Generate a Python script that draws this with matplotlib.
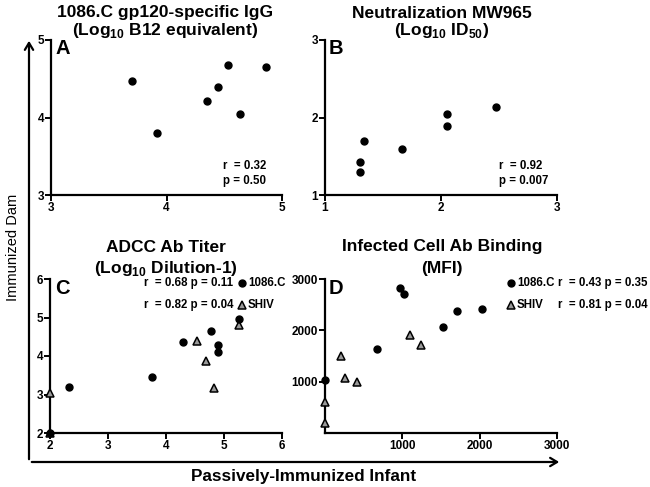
import matplotlib
matplotlib.use("Agg")
import matplotlib.pyplot as plt
from matplotlib.lines import Line2D
from matplotlib.patches import FancyArrowPatch

plt.rcParams['font.family'] = ['Liberation Sans', 'DejaVu Sans']
plt.rcParams['font.weight'] = 'bold'
plt.rcParams['mathtext.fontset'] = 'custom'
plt.rcParams['mathtext.rm'] = 'Liberation Sans:bold'
plt.rcParams['mathtext.bf'] = 'Liberation Sans:bold'

# Panel A: 1086.C gp120-specific IgG
a_infant = [3.70, 3.92, 4.35, 4.45, 4.53, 4.64, 4.86]
a_dam = [4.47, 3.80, 4.21, 4.39, 4.68, 4.05, 4.65]
# Panel B: Neutralization MW965
b_infant = [1.34, 1.30, 1.30, 1.66, 2.05, 2.05, 2.47]
b_dam = [1.70, 1.43, 1.30, 1.59, 2.05, 1.89, 2.14]
# Panel C: ADCC Ab titer
c_1086_infant = [2.00, 2.32, 3.76, 4.30, 4.77, 4.89, 4.89, 5.25]
c_1086_dam = [2.00, 3.19, 3.46, 4.36, 4.66, 4.29, 4.11, 4.95]
c_shiv_infant = [2.00, 2.00, 4.54, 4.69, 4.83, 5.25]
c_shiv_dam = [2.00, 3.03, 4.39, 3.86, 3.18, 4.81]
# Panel D: Infected cell Ab binding (MFI)
d_1086_infant = [0, 677, 965, 1021, 1529, 1710, 2027]
d_1086_dam = [1040, 1631, 2832, 2710, 2060, 2384, 2423]
d_shiv_infant = [0, 0, 204, 255, 417, 1100, 1239]
d_shiv_dam = [200, 610, 1495, 1066, 988, 1916, 1709]

W, H = 650, 487
fig = plt.figure(figsize=(W / 100, H / 100), dpi=100)


def fx(x):
    return x / W


def fy(y):
    return 1 - y / H


def make_ax(l, r, t, b, xlim, ylim, xticks, yticks):
    ax = fig.add_axes([fx(l), fy(b), (r - l) / W, (b - t) / H])
    ax.set_xlim(*xlim)
    ax.set_ylim(*ylim)
    ax.set_xticks(xticks)
    ax.set_yticks(yticks)
    for s in ['top', 'right']:
        ax.spines[s].set_visible(False)
    for s in ['left', 'bottom']:
        ax.spines[s].set_linewidth(1.6)
    ax.tick_params(direction='out', length=4, width=1.4, labelsize=8.5, pad=1)
    for lab in ax.get_xticklabels() + ax.get_yticklabels():
        lab.set_fontweight('bold')
    ax.patch.set_alpha(0)
    return ax


circ = dict(marker='o', linestyle='none', color='black', markersize=5, clip_on=False, zorder=5)
tri = dict(marker='^', linestyle='none', markerfacecolor='#9a9a9a', markeredgecolor='black',
           markeredgewidth=1.1, markersize=6, clip_on=False, zorder=4)

axA = make_ax(51, 282, 40, 195, (3, 5), (3, 5), [3, 4, 5], [3, 4, 5])
axA.plot(a_infant, a_dam, **circ)
axB = make_ax(325, 557, 40, 195, (1, 3), (1, 3), [1, 2, 3], [1, 2, 3])
axB.plot(b_infant, b_dam, **circ)
axC = make_ax(50, 282, 279, 433, (2, 6), (2, 6), [2, 3, 4, 5, 6], [2, 3, 4, 5, 6])
axC.plot(c_shiv_infant, c_shiv_dam, **tri)
axC.plot(c_1086_infant, c_1086_dam, **circ)
axD = make_ax(325, 557, 279, 433, (0, 3000), (0, 3000), [1000, 2000, 3000], [1000, 2000, 3000])
axD.plot(d_shiv_infant, d_shiv_dam, **tri)
axD.plot(d_1086_infant, d_1086_dam, **circ)

# Panel letters
for lab, x, y in [('A', 55, 49), ('B', 329, 49), ('C', 55, 288), ('D', 329, 288)]:
    fig.text(fx(x), fy(y), lab, fontsize=14.5, fontweight='bold', va='center', ha='left')

# Titles
tfs = 12.5
fig.text(fx(165), fy(13), '1086.C gp120-specific IgG', fontsize=tfs, ha='center', va='center', fontweight='bold')
fig.text(fx(165), fy(31), r'(Log$_{\mathbf{10}}$ B12 equivalent)', fontsize=tfs, ha='center', va='center', fontweight='bold')
fig.text(fx(442), fy(13), 'Neutralization MW965', fontsize=tfs, ha='center', va='center', fontweight='bold')
fig.text(fx(442), fy(31), r'(Log$_{\mathbf{10}}$ ID$_{\mathbf{50}}$)', fontsize=tfs, ha='center', va='center', fontweight='bold')
fig.text(fx(166), fy(247), 'ADCC Ab Titer', fontsize=tfs, ha='center', va='center', fontweight='bold')
fig.text(fx(166), fy(268), r'(Log$_{\mathbf{10}}$ Dilution-1)', fontsize=tfs, ha='center', va='center', fontweight='bold')
fig.text(fx(442), fy(247), 'Infected Cell Ab Binding', fontsize=tfs, ha='center', va='center', fontweight='bold')
fig.text(fx(442), fy(268), '(MFI)', fontsize=tfs, ha='center', va='center', fontweight='bold')

# Stats
sfs = 8.3
fig.text(fx(223), fy(166), 'r  = 0.32', fontsize=sfs, ha='left', va='center', fontweight='bold')
fig.text(fx(223), fy(181), 'p = 0.50', fontsize=sfs, ha='left', va='center', fontweight='bold')
fig.text(fx(499), fy(166), 'r  = 0.92', fontsize=sfs, ha='left', va='center', fontweight='bold')
fig.text(fx(499), fy(181), 'p = 0.007', fontsize=sfs, ha='left', va='center', fontweight='bold')

fig.text(fx(144), fy(283), 'r  = 0.68 p = 0.11', fontsize=sfs, ha='left', va='center', fontweight='bold')
fig.text(fx(144), fy(305), 'r  = 0.82 p = 0.04', fontsize=sfs, ha='left', va='center', fontweight='bold')
fig.text(fx(248), fy(283), '1086.C', fontsize=sfs, ha='left', va='center', fontweight='bold')
fig.text(fx(248), fy(305), 'SHIV', fontsize=sfs, ha='left', va='center', fontweight='bold')
fig.add_artist(Line2D([fx(242)], [fy(283)], transform=fig.transFigure, **circ))
fig.add_artist(Line2D([fx(242)], [fy(305)], transform=fig.transFigure, **tri))

fig.text(fx(517), fy(283), '1086.C', fontsize=sfs, ha='left', va='center', fontweight='bold')
fig.text(fx(517), fy(305), 'SHIV', fontsize=sfs, ha='left', va='center', fontweight='bold')
fig.text(fx(558), fy(283), 'r  = 0.43 p = 0.35', fontsize=sfs, ha='left', va='center', fontweight='bold')
fig.text(fx(558), fy(305), 'r  = 0.81 p = 0.04', fontsize=sfs, ha='left', va='center', fontweight='bold')
fig.add_artist(Line2D([fx(511)], [fy(283)], transform=fig.transFigure, **circ))
fig.add_artist(Line2D([fx(511)], [fy(305)], transform=fig.transFigure, **tri))

# Big L-shaped arrows
fig.add_artist(FancyArrowPatch((fx(29), fy(462)), (fx(29), fy(38)), transform=fig.transFigure,
                               arrowstyle='->,head_length=5,head_width=3', linewidth=1.6, color='black'))
fig.add_artist(FancyArrowPatch((fx(29), fy(462)), (fx(562), fy(462)), transform=fig.transFigure,
                               arrowstyle='->,head_length=5,head_width=3', linewidth=1.6, color='black'))
fig.text(fx(13), fy(247), 'Immunized Dam', fontsize=10.5, rotation=90, ha='center', va='center', fontweight='normal')
fig.text(fx(304), fy(477), 'Passively-Immunized Infant', fontsize=12.3, ha='center', va='center', fontweight='bold')

fig.savefig('out.png', dpi=100)
